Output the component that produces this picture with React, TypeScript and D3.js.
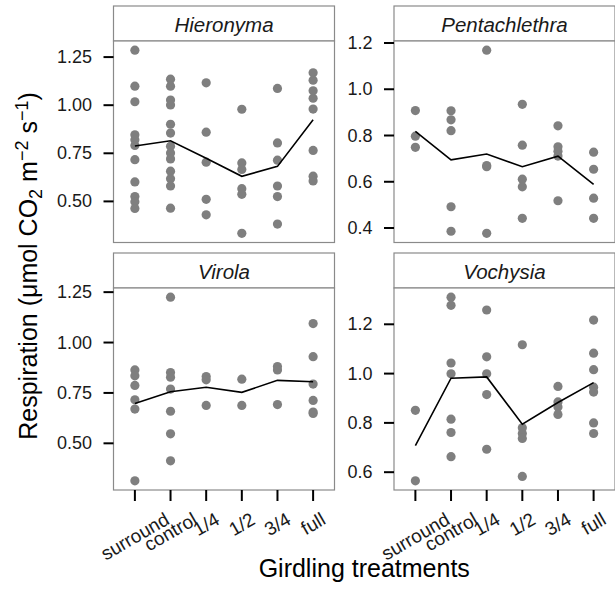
import React from "react";
import * as d3 from "d3";

const treatments = ["surround", "control", "1/4", "1/2", "3/4", "full"];
const speciesNames = ["Hieronyma", "Pentachlethra", "Virola", "Vochysia"];

const hieronyma = [
  [1.286, 1.099, 1.018, 0.846, 0.821, 0.791, 0.717, 0.601, 0.525, 0.498, 0.463],
  [1.135, 1.099, 1.027, 1.001, 0.901, 0.855, 0.786, 0.752, 0.721, 0.657, 0.618, 0.58, 0.465],
  [1.116, 0.86, 0.704, 0.511, 0.43],
  [0.979, 0.7, 0.666, 0.566, 0.537, 0.334],
  [1.087, 0.804, 0.714, 0.58, 0.525, 0.382],
  [1.168, 1.13, 1.075, 1.036, 0.98, 0.765, 0.631, 0.606],
];
const pentachlethra = [
  [0.908, 0.797, 0.749],
  [0.907, 0.868, 0.821, 0.492, 0.386],
  [1.169, 0.67, 0.665, 0.377],
  [0.935, 0.758, 0.611, 0.578, 0.442],
  [0.842, 0.751, 0.732, 0.711, 0.518],
  [0.728, 0.654, 0.529, 0.442],
];
const virola = [
  [0.864, 0.835, 0.787, 0.716, 0.67, 0.314],
  [1.225, 0.851, 0.828, 0.769, 0.659, 0.547, 0.413],
  [0.831, 0.815, 0.688],
  [0.818, 0.688],
  [0.881, 0.864, 0.692],
  [1.094, 0.93, 0.794, 0.713, 0.655, 0.648],
];
const vochysia = [
  [0.851, 0.565],
  [1.31, 1.277, 1.043, 0.999, 0.815, 0.761, 0.663],
  [1.258, 1.068, 0.999, 0.915, 0.693],
  [1.117, 0.78, 0.757, 0.737, 0.583],
  [0.948, 0.885, 0.864, 0.834],
  [1.217, 1.083, 1.016, 0.945, 0.925, 0.8, 0.757],
];

const ticksHieronyma = [0.5, 0.75, 1.0, 1.25];
const ticksPentachlethra = [0.4, 0.6, 0.8, 1.0, 1.2];
const ticksVirola = [0.5, 0.75, 1.0, 1.25];
const ticksVochysia = [0.6, 0.8, 1.0, 1.2];

const panelData = [hieronyma, pentachlethra, virola, vochysia];
const panelTicks = [ticksHieronyma, ticksPentachlethra, ticksVirola, ticksVochysia];
const panelFormats = [".2f", ".1f", ".2f", ".1f"];

const W = 615;
const H = 606;
const colX = [113.5, 394];
const panelW = 221;
const stripTop = [6, 253];
const stripH = 35;
const panelBottom = [242.5, 490];

const FONT = "'Liberation Sans', Arial, Helvetica, sans-serif";
const tickFont = 18;
const xLabFont = 19;
const stripFont = 20.5;
const titleFont = 25;
const borderCol = "#8a8a8a";
const pointCol = "#7f7f7f";

let measureCtx: CanvasRenderingContext2D | null = null;
function textWidth(s: string, size: number) {
  if (!measureCtx) {
    const c = document.createElement("canvas");
    measureCtx = c.getContext("2d");
  }
  if (!measureCtx) return s.length * size * 0.5;
  measureCtx.font = `${size}px 'Liberation Sans'`;
  return measureCtx.measureText(s).width;
}

function Panel({ idx }: { idx: number }) {
  const col = idx % 2;
  const row = Math.floor(idx / 2);
  const x0 = colX[col];
  const x1 = x0 + panelW;
  const sTop = stripTop[row];
  const pTop = sTop + stripH;
  const pBot = panelBottom[row];
  const data = panelData[idx];
  const all = data.flat();
  const [mn, mx] = d3.extent(all) as [number, number];
  const pad = (mx - mn) * 0.05;
  const y = d3.scaleLinear().domain([mn - pad, mx + pad]).range([pBot, pTop]);
  const x = d3
    .scalePoint<string>()
    .domain(treatments)
    .range([x0, x1])
    .padding(0.6);
  const means = data.map((vals, i) => ({ t: treatments[i], m: d3.mean(vals) as number }));
  const line = d3
    .line<{ t: string; m: number }>()
    .x((d) => x(d.t) as number)
    .y((d) => y(d.m));
  const fmt = d3.format(panelFormats[idx]);
  const angle = 30;
  const rad = (angle * Math.PI) / 180;
  return (
    <g>
      <rect x={x0} y={sTop} width={panelW} height={stripH} fill="#ffffff" stroke={borderCol} strokeWidth={1.2} />
      <text
        x={(x0 + x1) / 2}
        y={sTop + stripH / 2 + 1}
        textAnchor="middle"
        dominantBaseline="central"
        fontStyle="italic"
        fontSize={stripFont}
        fontFamily={FONT}
        fill="#1a1a1a"
      >
        {speciesNames[idx]}
      </text>
      <rect x={x0} y={pTop} width={panelW} height={pBot - pTop} fill="#ffffff" stroke={borderCol} strokeWidth={1.2} />
      {data.map((vals, i) =>
        vals.map((v, j) => (
          <circle key={`${i}-${j}`} cx={x(treatments[i]) as number} cy={y(v)} r={4.6} fill={pointCol} />
        ))
      )}
      <path d={line(means) || ""} fill="none" stroke="#000" strokeWidth={1.6} />
      {panelTicks[idx].map((t) => (
        <g key={t}>
          <line x1={x0 - 10} x2={x0} y1={y(t)} y2={y(t)} stroke="#000" strokeWidth={2} />
          <text
            x={x0 - 21.5}
            y={y(t)}
            textAnchor="end"
            dominantBaseline="central"
            fontSize={tickFont}
            fontFamily={FONT}
            fill="#1a1a1a"
          >
            {fmt(t)}
          </text>
        </g>
      ))}
      {row === 1 &&
        treatments.map((t) => {
          const tx = x(t) as number;
          const w = textWidth(t, xLabFont);
          const h = 13;
          const cy = pBot + 22 + (w * Math.sin(rad) + h * Math.cos(rad)) / 2;
          return (
            <g key={t}>
              <line x1={tx} x2={tx} y1={pBot} y2={pBot + 11} stroke="#000" strokeWidth={2} />
              <text
                transform={`translate(${tx},${cy}) rotate(${-angle})`}
                textAnchor="middle"
                dominantBaseline="central"
                fontSize={xLabFont}
                fontFamily={FONT}
                fill="#1a1a1a"
              >
                {t}
              </text>
            </g>
          );
        })}
    </g>
  );
}

export default function App() {
  return (
    <svg width={W} height={H} style={{ display: "block", position: "absolute", left: 0, top: 0, background: "#fff" }}>
      <rect x={0} y={0} width={W} height={H} fill="#fff" />
      {[0, 1, 2, 3].map((i) => (
        <Panel key={i} idx={i} />
      ))}
      <text
        x={(colX[0] + colX[1] + panelW) / 2}
        y={577}
        textAnchor="middle"
        fontSize={titleFont}
        fontFamily={FONT}
        fill="#000"
      >
        Girdling treatments
      </text>
      <text
        transform={`translate(37,266) rotate(-90)`}
        textAnchor="middle"
        fontSize={titleFont}
        fontFamily={FONT}
        fill="#000"
      >
        Respiration (μmol CO
        <tspan fontSize={titleFont * 0.72} dy={5}>2</tspan>
        <tspan dy={-5}> m</tspan>
        <tspan fontSize={titleFont * 0.72} dy={-9}>−2</tspan>
        <tspan dy={9}> s</tspan>
        <tspan fontSize={titleFont * 0.72} dy={-9}>−1</tspan>
        <tspan dy={9}>)</tspan>
      </text>
    </svg>
  );
}
